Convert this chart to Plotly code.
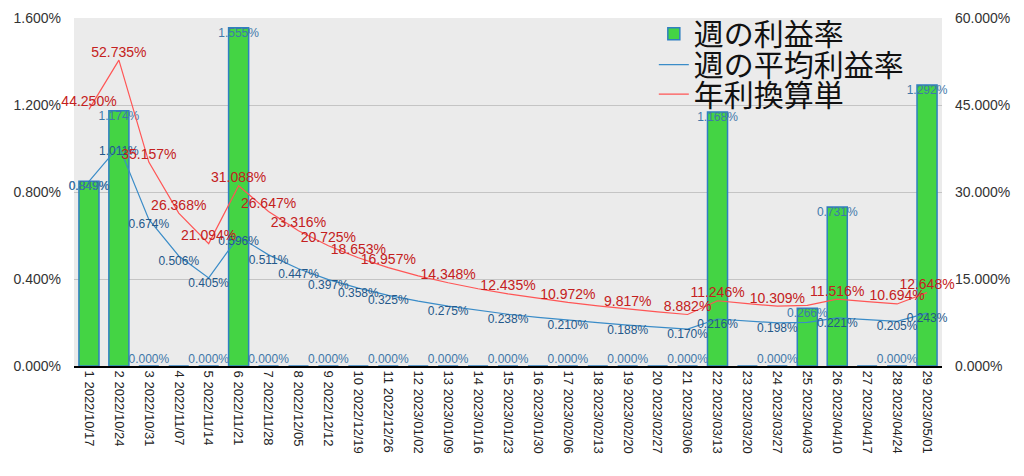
import plotly.graph_objects as go

dates = ["2022/10/17","2022/10/24","2022/10/31","2022/11/07","2022/11/14","2022/11/21","2022/11/28",
         "2022/12/05","2022/12/12","2022/12/19","2022/12/26","2023/01/02","2023/01/09","2023/01/16",
         "2023/01/23","2023/01/30","2023/02/06","2023/02/13","2023/02/20","2023/02/27","2023/03/06",
         "2023/03/13","2023/03/20","2023/03/27","2023/04/03","2023/04/10","2023/04/17","2023/04/24",
         "2023/05/01"]
categories = [f"{i+1} {d}" for i, d in enumerate(dates)]

weekly = [0.849, 1.174, 0, 0, 0, 1.555, 0, 0, 0, 0, 0, 0, 0, 0, 0, 0, 0, 0, 0, 0, 0,
          1.168, 0, 0, 0.266, 0.731, 0, 0, 1.292]
average = [0.849, 1.011, 0.674, 0.506, 0.405, 0.596, 0.511, 0.447, 0.397, 0.358, 0.325, 0.298,
           0.275, 0.256, 0.238, 0.224, 0.210, 0.199, 0.188, 0.179, 0.170, 0.216, 0.206, 0.198,
           0.201, 0.221, 0.213, 0.205, 0.243]
annual = [44.250, 52.735, 35.157, 26.368, 21.094, 31.088, 26.647, 23.316, 20.725, 18.653, 16.957,
          15.544, 14.348, 13.325, 12.435, 11.658, 10.972, 10.360, 9.817, 9.327, 8.882, 11.246,
          10.757, 10.309, 10.453, 11.516, 11.090, 10.694, 12.648]

left_ticks = [0, 0.4, 0.8, 1.2, 1.6]
right_ticks = [0, 15, 30, 45, 60]

# which labels are visible in the reference (others hidden due to overlap)
shown_line = [1]*11 + [0,1,0,1,0,1,0,1,0,1,1,0,1,0,1,0,1,1]
shown_bar_zero = {3,5,7,9,11,13,15,17,19,21,24,28}

bar_text = []
bar_pos = []
for i, v in enumerate(weekly):
    if v > 0:
        bar_text.append(f"{v:.3f}%")
        bar_pos.append("bottom center")
    else:
        bar_text.append("0.000%" if (i+1) in shown_bar_zero else "")
        bar_pos.append("top center")

avg_text = [f"{v:.3f}%" if s else "" for v, s in zip(average, shown_line)]
ann_text = [f"{v:.3f}%" if s else "" for v, s in zip(annual, shown_line)]

jp = "Noto Sans CJK JP, sans-serif"
lat = "Liberation Sans, Arial, sans-serif"

fig = go.Figure()
fig.add_trace(go.Bar(x=categories, y=weekly, name="週の利益率",
                     marker=dict(color="#44d444", line=dict(color="#2f7fc0", width=1.5)),
                     yaxis="y", legend="legend"))
fig.add_trace(go.Scatter(x=categories, y=average, name="週の平均利益率", mode="lines+text",
                         line=dict(color="#3a8cc8", width=1.2), text=avg_text,
                         textposition="bottom center", cliponaxis=False,
                         textfont=dict(color="#24588a", size=12, family=lat), yaxis="y",
                         legend="legend2"))
fig.add_trace(go.Scatter(x=categories, y=annual, name="年利換算単", mode="lines+text",
                         line=dict(color="#ff5555", width=1.2), text=ann_text,
                         textposition="top center", cliponaxis=False,
                         textfont=dict(color="#c42020", size=14, family=lat), yaxis="y2",
                         legend="legend3"))
fig.add_trace(go.Scatter(x=categories, y=weekly, mode="text", text=bar_text,
                         textposition=bar_pos, showlegend=False, hoverinfo="skip",
                         cliponaxis=False,
                         textfont=dict(color="#3f78aa", size=12, family=lat), yaxis="y"))

leg = dict(xanchor="left", yanchor="middle", bgcolor="rgba(0,0,0,0)",
           font=dict(size=30, color="#111111", family=jp))

fig.update_layout(
    width=1024, height=476,
    margin=dict(l=74, r=82, t=18, b=110, autoexpand=False),
    paper_bgcolor="white", plot_bgcolor="#ebebeb",
    bargap=0.33,
    font=dict(family=lat, color="#333333", size=13),
    xaxis=dict(tickangle=90, tickfont=dict(size=13, color="#222222", family=lat), showgrid=False,
               range=[-0.5, len(categories) - 0.5],
               showline=True, linecolor="black", linewidth=2, ticks="", automargin=False),
    yaxis=dict(range=[0, 1.6], tickvals=left_ticks,
               ticktext=[f"{v:.3f}%" for v in left_ticks],
               gridcolor="#c4c4c4", gridwidth=1, zeroline=False, automargin=False,
               ticklabelstandoff=12,
               tickfont=dict(size=14, color="#333333", family=lat)),
    yaxis2=dict(range=[0, 60], tickvals=right_ticks,
                ticktext=[f"{v:.3f}%" for v in right_ticks],
                overlaying="y", side="right", showgrid=False, zeroline=False, automargin=False,
                ticklabelstandoff=12,
                tickfont=dict(size=14, color="#333333", family=lat)),
    legend=dict(x=0.668, y=0.955, **leg),
    legend2=dict(x=0.668, y=0.866, **leg),
    legend3=dict(x=0.668, y=0.781, **leg),
    showlegend=True,
)

fig.write_html("out.html")
